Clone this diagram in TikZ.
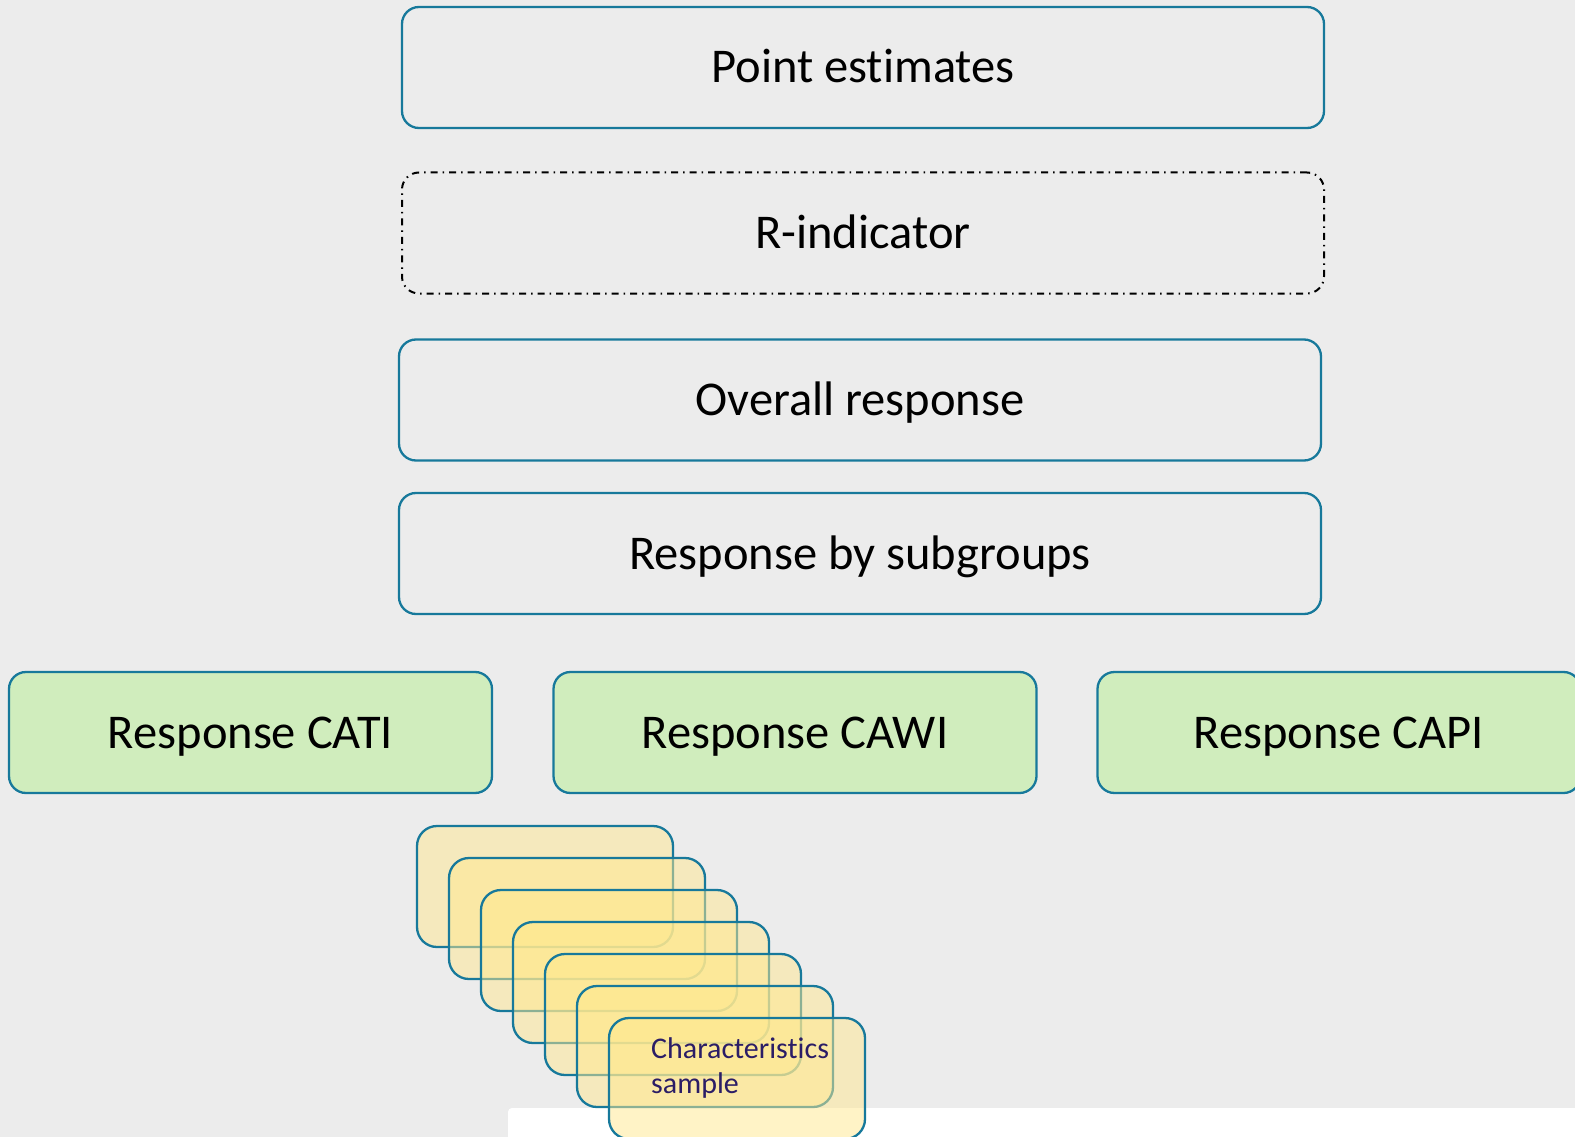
\documentclass[tikz,border=0pt]{standalone}
\usepackage{fontspec}
\setmainfont{Carlito}[Ligatures=NoCommon]
\definecolor{bg}{HTML}{ECECEC}
\definecolor{edge}{HTML}{17799B}
\definecolor{mint}{HTML}{D0EDBD}
\definecolor{sand}{HTML}{FFE88F}
\definecolor{ink}{HTML}{2B1D66}
\tikzset{
  frame/.style={draw=edge, line width=2.3pt, rounded corners=17pt, fill=bg,
    minimum width=922pt, minimum height=121pt, inner sep=0pt,
    text height=31pt, text depth=0pt,
    font=\fontsize{48.5}{56}\selectfont},
  dotframe/.style={frame, draw=black, line width=2pt,
    dash pattern=on 7pt off 5pt on 1.5pt off 5pt},
  mode/.style={draw=edge, line width=2.3pt, rounded corners=17pt, fill=mint,
    minimum width=483pt, minimum height=121pt, inner sep=0pt,
    text height=31pt, text depth=0pt,
    font=\fontsize{48.5}{56}\selectfont},
  card/.style={draw=edge, line width=2.3pt, rounded corners=20pt,
    fill=sand, fill opacity=0.5, draw opacity=1,
    minimum width=256pt, minimum height=121pt, inner sep=0pt}
}
\begin{document}
\begin{tikzpicture}[x=1pt,y=-1pt]
  \useasboundingbox (0,0) rectangle (1575,1137);
  \clip (0,0) rectangle (1575,1137);
  % page background and white sheet at the bottom
  \fill[bg] (0,0) rectangle (1575,1137);
  \fill[white, rounded corners=4pt] (508,1108) rectangle (1600,1160);

  % stacked levels
  \node[frame] (pe) at (863,67.5) {Point estimates};
  \node[dotframe] (ri) at (863,233) {R-indicator};
  \node[frame] (ov) at (860,400) {Overall response};
  \node[frame] (sg) at (860,553.5) {Response by subgroups};

  % response by mode
  \node[mode] (cati) at (250.5,732.5) {Response CATI};
  \node[mode] (cawi) at (795,732.5) {Response CAWI};
  \node[mode] (capi) at (1339,732.5) {Response CAPI};

  % stack of sample characteristic cards
  \foreach \k in {0,...,6} {
    \node[card] (c\k) at (545+32*\k, 886.5+32*\k) {};
  }
  \node[anchor=base west, align=left, inner sep=0pt, text=ink,
        font=\fontsize{30}{35}\selectfont] (lbl) at (651,1093)
        {Characteristics\\sample};
\end{tikzpicture}
\end{document}
